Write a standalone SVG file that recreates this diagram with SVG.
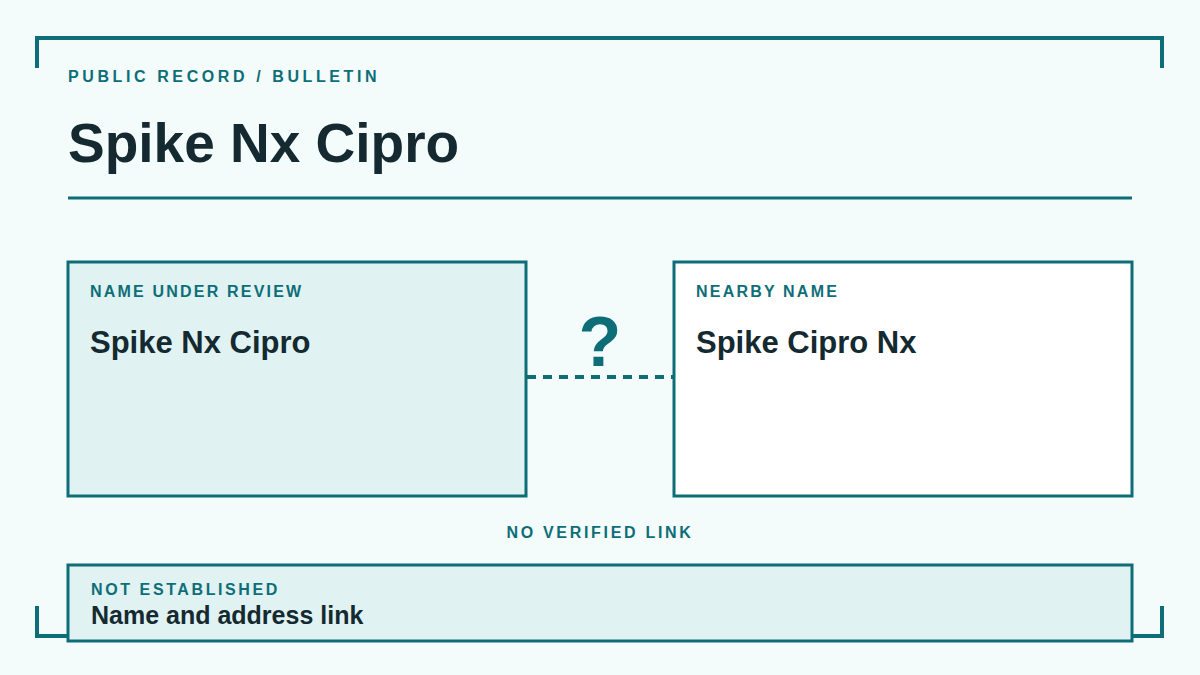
<svg xmlns="http://www.w3.org/2000/svg" width="1200" height="675" viewBox="0 0 1200 675">
<style>
.k{font-family:"Liberation Sans",Arial,sans-serif;font-weight:bold;fill:#0e6e78;letter-spacing:2.2px;font-size:16px}
.n{font-family:"Liberation Sans",Arial,sans-serif;font-weight:bold;fill:#142a30}
.box{stroke:#0e6e78;stroke-width:3}
</style>
<rect width="1200" height="675" fill="#f3fbfb"/>
<path d="M37 68V38H1162V68M37 606V636H1162V606" fill="none" stroke="#0e6e78" stroke-width="4"/>
<text class="k" x="68" y="82" style="letter-spacing:3.6px">PUBLIC RECORD / BULLETIN</text>
<text class="n" x="68" y="162" font-size="55">Spike Nx Cipro</text>
<line x1="68" y1="198" x2="1132" y2="198" stroke="#0e6e78" stroke-width="3"/>
<g id="connectors">
<line x1="527" y1="377" x2="673" y2="377" stroke="#0e6e78" stroke-width="4" stroke-dasharray="9 7"/>
<text x="600" y="366" text-anchor="middle" font-family="Liberation Sans,Arial,sans-serif" font-weight="bold" font-size="70" fill="#0e6e78">?</text>
<text class="k" x="600" y="538" text-anchor="middle" style="letter-spacing:2.7px">NO VERIFIED LINK</text>
</g>
<g id="review">
<rect class="box" x="68" y="262" width="458" height="234" fill="#e0f2f2"/>
<text class="k" x="90" y="297">NAME UNDER REVIEW</text>
<text class="n" x="90" y="353" font-size="31">Spike Nx Cipro</text>
</g>
<g id="nearby">
<rect class="box" x="674" y="262" width="458" height="234" fill="#ffffff"/>
<text class="k" x="696" y="297">NEARBY NAME</text>
<text class="n" x="696" y="353" font-size="31">Spike Cipro Nx</text>
</g>
<g id="status">
<rect class="box" x="68" y="565" width="1064" height="76" fill="#e0f2f2"/>
<text class="k" x="91" y="595" style="letter-spacing:2.6px">NOT ESTABLISHED</text>
<text class="n" x="91" y="624" font-size="25">Name and address link</text>
</g>
</svg>
